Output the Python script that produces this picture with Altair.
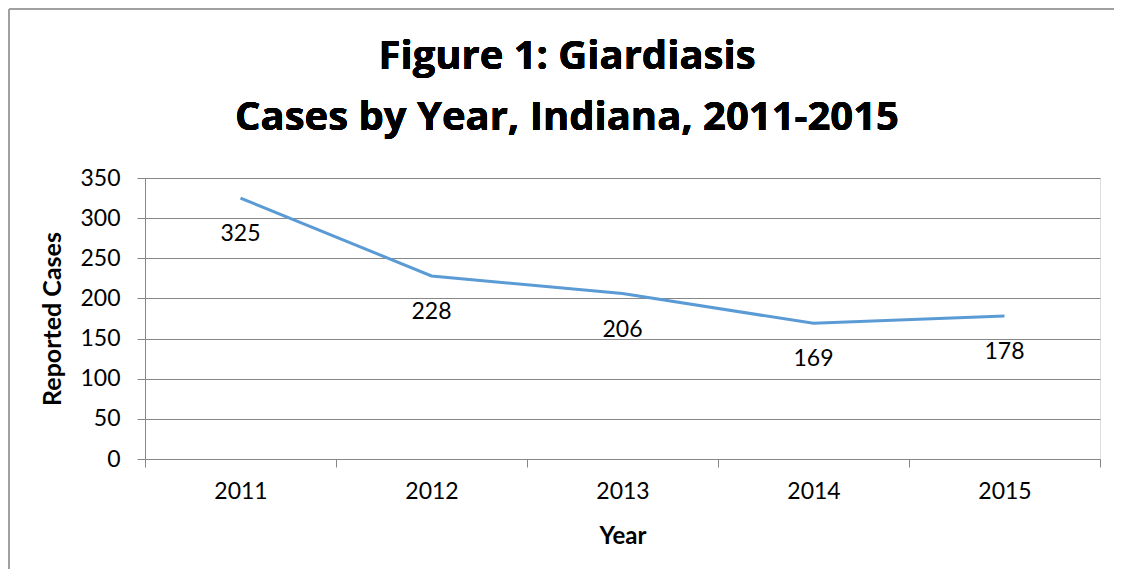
import altair as alt
import pandas as pd

years = ["2011", "2012", "2013", "2014", "2015"]
cases = [325, 228, 206, 169, 178]
title_lines = ["Figure 1: Giardiasis", "Cases by Year, Indiana, 2011-2015"]

df = pd.DataFrame({"Year": years, "Cases": cases})

FONT = "Lato"
TFONT = "Open Sans"
W, H = 955, 281

x_enc = alt.X(
    "Year:O",
    title="Year",
    scale=alt.Scale(paddingInner=0, paddingOuter=0),
    axis=alt.Axis(
        labelAngle=0, tickBand="extent", tickSize=8, tickColor="#878787",
        domainColor="#878787", labelFontSize=23, labelFont=FONT, labelColor="black",
        labelPadding=13, titleFont=FONT, titleFontSize=24, titleFontWeight="bold",
        titleColor="black", titlePadding=21, grid=False,
    ),
)
y_enc = alt.Y(
    "Cases:Q",
    title="Reported Cases",
    scale=alt.Scale(domain=[0, 350], nice=False),
    axis=alt.Axis(
        values=[0, 50, 100, 150, 200, 250, 300, 350], tickSize=8, tickColor="#878787",
        domainColor="#878787", gridColor="#878787", grid=True,
        labelFontSize=23, labelFont=FONT, labelColor="black", labelPadding=17,
        titleFont=FONT, titleFontSize=25, titleFontWeight="bold", titleColor="black",
        titlePadding=14,
    ),
)

base = alt.Chart(df)
line = base.mark_line(color="#5B9BD5", strokeWidth=3).encode(x=x_enc, y=y_enc)
labels = base.mark_text(
    font=FONT, fontSize=23, color="black", dy=36, baseline="middle"
).encode(x="Year:O", y="Cases:Q", text="Cases:Q")

title1 = base.mark_text(
    text=title_lines[0], font=TFONT, fontSize=40, fontWeight="bold", color="black",
    align="center", baseline="alphabetic",
).encode(x=alt.value(422), y=alt.value(-109))
title2 = base.mark_text(
    text=title_lines[1], font=TFONT, fontSize=40, fontWeight="bold", color="black",
    align="center", baseline="alphabetic",
).encode(x=alt.value(422), y=alt.value(-48))

frame_top = base.mark_rule(color="#a0a0a0", strokeWidth=2).encode(
    x=alt.value(-136), x2=alt.value(W + 20), y=alt.value(-169)
)
frame_left = base.mark_rule(color="#a0a0a0", strokeWidth=2).encode(
    x=alt.value(-136), y=alt.value(-169), y2=alt.value(H + 120)
)

chart = (
    alt.layer(frame_top, frame_left, line, labels, title1, title2)
    .properties(
        width=W, height=H,
        padding={"left": 137, "top": 170, "right": 14, "bottom": 110},
        autosize=alt.AutoSizeParams(type="none"),
    )
    .configure_view(stroke=None)
    .configure(background="white")
)

chart.save("out.html", embed_options={"renderer": "svg", "actions": False})
